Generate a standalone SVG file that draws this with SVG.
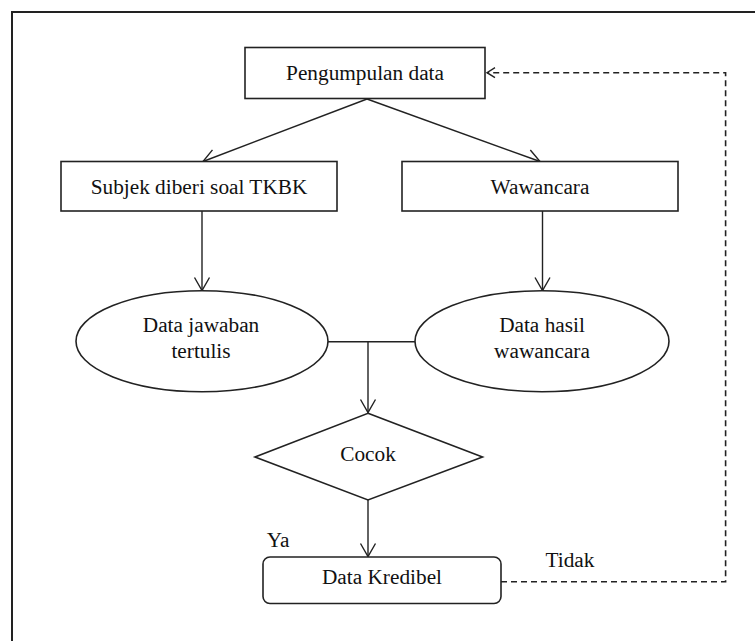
<svg xmlns="http://www.w3.org/2000/svg" width="755" height="641" viewBox="0 0 755 641">
<style>
.shape{fill:#fff;stroke:#222;stroke-width:1.6}
.con{fill:none;stroke:#222;stroke-width:1.4}
.dash{fill:none;stroke:#222;stroke-width:1.6;stroke-dasharray:6 4}
</style>
<defs>
<marker id="arr" markerUnits="userSpaceOnUse" markerWidth="20" markerHeight="20" refX="0" refY="0" orient="auto" overflow="visible">
<path d="M-13,-7.5 L0,0 L-13,7.5" fill="none" stroke="#222" stroke-width="1.4"/>
</marker>
<marker id="arrs" markerUnits="userSpaceOnUse" markerWidth="20" markerHeight="20" refX="0" refY="0" orient="auto" overflow="visible">
<path d="M-8,-5 L0,0 L-8,5" fill="none" stroke="#222" stroke-width="1.4"/>
</marker>
</defs>
<rect x="0" y="0" width="755" height="641" fill="#fff"/>
<rect x="12" y="12" width="770" height="660" fill="none" stroke="#222" stroke-width="2"/>

<g id="connectors">
<line class="con" x1="367" y1="99" x2="203" y2="161.5" marker-end="url(#arr)"/>
<line class="con" x1="367" y1="99" x2="540" y2="161.5" marker-end="url(#arr)"/>
<line class="con" x1="202" y1="211" x2="202" y2="290.5" marker-end="url(#arr)"/>
<line class="con" x1="542.5" y1="211" x2="542.5" y2="290.5" marker-end="url(#arr)"/>
<line class="con" x1="328" y1="341.7" x2="415" y2="341.7"/>
<line class="con" x1="368" y1="341.7" x2="368" y2="412.5" marker-end="url(#arr)"/>
<line class="con" x1="368" y1="500" x2="368" y2="556.5" marker-end="url(#arr)"/>
<polyline class="dash" points="501,581.7 725.6,581.7 725.6,72.7 487,72.7" marker-end="url(#arrs)"/>
</g>

<g font-family="Liberation Serif, Times New Roman, serif" font-size="21.3" fill="#111" text-anchor="middle">
<g id="pengumpulan">
<rect class="shape" x="245" y="47.5" width="240" height="51"/>
<text x="365" y="80">Pengumpulan data</text>
</g>
<g id="subjek">
<rect class="shape" x="61" y="161.5" width="276" height="49.5"/>
<text x="199" y="194">Subjek diberi soal TKBK</text>
</g>
<g id="wawancara">
<rect class="shape" x="402" y="161.5" width="276" height="49.5"/>
<text x="540" y="194">Wawancara</text>
</g>
<g id="jawaban">
<ellipse class="shape" cx="202" cy="341.2" rx="126" ry="50.5"/>
<text x="201" y="331.7">Data jawaban</text>
<text x="201" y="358">tertulis</text>
</g>
<g id="hasil">
<ellipse class="shape" cx="542" cy="341.2" rx="127" ry="50.5"/>
<text x="542" y="331.7">Data hasil</text>
<text x="542" y="358">wawancara</text>
</g>
<g id="cocok">
<polygon class="shape" points="368,413.3 482.5,457 368,500 255,457"/>
<text x="368" y="461">Cocok</text>
</g>
<g id="kredibel">
<rect class="shape" x="263" y="557" width="238" height="46.5" rx="7" ry="7"/>
<text x="382" y="584">Data Kredibel</text>
</g>
<text x="278" y="546.7">Ya</text>
<text x="570" y="566.7">Tidak</text>
</g>
</svg>
